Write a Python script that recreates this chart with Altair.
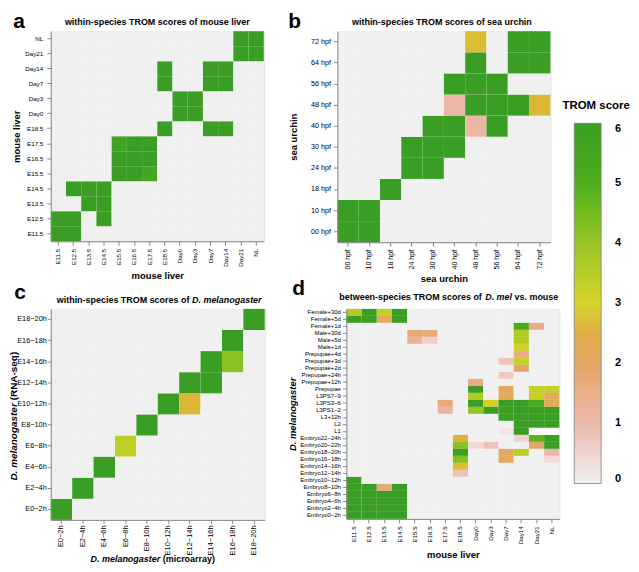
import altair as alt
import pandas as pd

FONT = "Liberation Sans"

# ---------------- categories ----------------
MOUSE = ["E11.5", "E12.5", "E13.5", "E14.5", "E15.5", "E16.5", "E17.5",
         "E18.5", "Day0", "Day3", "Day7", "Day14", "Day21", "NL"]
URCHIN = ["00 hpf", "10 hpf", "18 hpf", "24 hpf", "30 hpf",
          "40 hpf", "48 hpf", "56 hpf", "64 hpf", "72 hpf"]
DMEL_EMBRYO = ["E0\u22122h", "E2\u22124h", "E4\u22126h", "E6\u22128h", "E8\u221210h",
               "E10\u221212h", "E12\u221214h", "E14\u221216h", "E16\u221218h", "E18\u221220h"]
# panel d rows, listed from top to bottom
DMEL_STAGES = ["Female+30d", "Female+5d", "Female+1d", "Male+30d", "Male+5d", "Male+1d",
               "Prepupae+4d", "Prepupae+3d", "Prepupae+2d", "Prepupae+24h", "Prepupae+12h",
               "Prepupae", "L3PS7\u22129", "L3PS3\u22126", "L3PS1\u22122", "L3+12h", "L2", "L1",
               "Embryo22\u221224h", "Embryo20\u221222h", "Embryo18\u221220h", "Embryo16\u221218h",
               "Embryo14\u221216h", "Embryo12\u221214h", "Embryo10\u221212h", "Embryo8\u221210h",
               "Embryo6\u22128h", "Embryo4\u22126h", "Embryo2\u22124h", "Embryo0\u22122h"]

# ---------------- TROM scores ----------------
# panel a: one row per MOUSE stage (E11.5 ... NL), columns MOUSE
A_SCORES = [
    [6, 6, 0, 0, 0, 0, 0, 0, 0, 0, 0, 0, 0, 0],
    [6, 6, 0, 6, 0, 0, 0, 0, 0, 0, 0, 0, 0, 0],
    [0, 0, 6, 6, 0, 0, 0, 0, 0, 0, 0, 0, 0, 0],
    [0, 6, 6, 6, 0, 0, 0, 0, 0, 0, 0, 0, 0, 0],
    [0, 0, 0, 0, 6, 6, 5.5, 0, 0, 0, 0, 0, 0, 0],
    [0, 0, 0, 0, 6, 6, 6, 0, 0, 0, 0, 0, 0, 0],
    [0, 0, 0, 0, 5.7, 6, 6, 0, 0, 0, 0, 0, 0, 0],
    [0, 0, 0, 0, 0, 0, 0, 6, 0, 0, 6, 6, 0, 0],
    [0, 0, 0, 0, 0, 0, 0, 0, 6, 6, 0, 0, 0, 0],
    [0, 0, 0, 0, 0, 0, 0, 0, 6, 6, 0, 0, 0, 0],
    [0, 0, 0, 0, 0, 0, 0, 6, 0, 0, 6, 6, 0, 0],
    [0, 0, 0, 0, 0, 0, 0, 6, 0, 0, 6, 6, 0, 0],
    [0, 0, 0, 0, 0, 0, 0, 0, 0, 0, 0, 0, 6, 6],
    [0, 0, 0, 0, 0, 0, 0, 0, 0, 0, 0, 0, 6, 6],
]
# panel b: one row per URCHIN stage (00 hpf ... 72 hpf), columns URCHIN
B_SCORES = [
    [6, 6, 0, 0, 0, 0, 0, 0, 0, 0],
    [6, 6, 0, 0, 0, 0, 0, 0, 0, 0],
    [0, 0, 6, 0, 0, 0, 0, 0, 0, 0],
    [0, 0, 0, 6, 6, 0, 0, 0, 0, 0],
    [0, 0, 0, 6, 6, 6, 0, 0, 0, 0],
    [0, 0, 0, 0, 6, 6, 1.1, 6, 0, 0],
    [0, 0, 0, 0, 0, 1.1, 6, 6, 6, 2.75],
    [0, 0, 0, 0, 0, 6, 6, 6, 0, 0],
    [0, 0, 0, 0, 0, 0, 6, 0, 6, 6],
    [0, 0, 0, 0, 0, 0, 2.8, 0, 6, 6],
]
# panel c: one row per RNA-seq stage (E0-2h ... E18-20h), columns microarray stages
C_SCORES = [
    [6, 0, 0, 0, 0, 0, 0, 0, 0, 0],
    [0, 6, 0, 0, 0, 0, 0, 0, 0, 0],
    [0, 0, 6, 0, 0, 0, 0, 0, 0, 0],
    [0, 0, 0, 3.4, 0, 0, 0, 0, 0, 0],
    [0, 0, 0, 0, 6, 0, 0, 0, 0, 0],
    [0, 0, 0, 0, 0, 6, 2.75, 0, 0, 0],
    [0, 0, 0, 0, 0, 0, 6, 6, 0, 0],
    [0, 0, 0, 0, 0, 0, 0, 6, 4.2, 0],
    [0, 0, 0, 0, 0, 0, 0, 0, 6, 0],
    [0, 0, 0, 0, 0, 0, 0, 0, 0, 6],
]
# panel d: one row per DMEL_STAGES entry (top to bottom), columns MOUSE
D_SCORES = [
    [3.6, 6, 3.3, 6, 0, 0, 0, 0, 0, 0, 0, 0, 0, 0],
    [6, 6, 2.1, 6, 0, 0, 0, 0, 0, 0, 0, 0, 0, 0],
    [0, 0, 0, 0, 0, 0, 0, 0, 0, 0, 0, 5.3, 1.6, 0],
    [0, 0, 0, 0, 1.8, 1.8, 0, 0, 0, 0, 0, 3.6, 0, 0],
    [0, 0, 0, 0, 1.3, 0.6, 0, 0, 0, 0, 0, 3.6, 0, 0],
    [0, 0, 0, 0, 0, 0, 0, 0, 0, 0, 0, 3.1, 0, 0],
    [0, 0, 0, 0, 0, 0, 0, 0, 0, 0, 0, 1.6, 0, 0],
    [0, 0, 0, 0, 0, 0, 0, 0, 0, 0, 0.8, 3.2, 0, 0],
    [0, 0, 0, 0, 0, 0, 0, 0, 0, 0, 0, 2.0, 0, 0],
    [0, 0, 0, 0, 0, 0, 0, 0, 0, 0, 0.7, 0, 0, 0],
    [0, 0, 0, 0, 0, 0, 0, 0, 1.6, 0, 0, 0, 0, 0],
    [0, 0, 0, 0, 0, 0, 0, 0, 6, 0, 2.1, 0, 3.3, 3.3],
    [0, 0, 0, 0, 0, 0, 0, 0, 3.6, 0, 2.3, 0, 3.3, 2.3],
    [0, 0, 0, 0, 0, 0, 1.8, 0, 6, 3.1, 6, 6, 5.2, 2.3],
    [0, 0, 0, 0, 0, 0, 1.2, 0, 4.1, 6, 6, 6, 6, 6],
    [0, 0, 0, 0, 0, 0, 0, 0, 0, 0, 6, 6, 6, 6],
    [0, 0, 0, 0, 0, 0, 0, 0, 0, 0, 0, 6, 6, 6],
    [0, 0, 0, 0, 0, 0, 0, 0, 0, 0, 0.2, 6, 0, 0],
    [0, 0, 0, 0, 0, 0, 0, 2.7, 0, 0, 0, 0.5, 4.8, 6],
    [0, 0, 0, 0, 0, 0, 0, 4.2, 0.4, 0.8, 0, 0, 2.0, 6],
    [0, 0, 0, 0, 0, 0, 0, 6, 0, 0, 2.1, 3.5, 0, 1.0],
    [0, 0, 0, 0, 0, 0, 0, 4.3, 0, 0, 2.1, 0, 0, 0.4],
    [0, 0, 0, 0, 0, 0, 0, 2.8, 0, 0, 0, 0, 0, 0],
    [0, 0, 0, 0, 0, 0, 0, 0.8, 0, 0, 0, 0, 0, 0],
    [6, 0, 0, 0, 0, 0, 0, 0, 0, 0, 0, 0, 0, 0],
    [6, 6, 1.8, 6, 0, 0, 0, 0, 0, 0, 0, 0, 0, 0],
    [6, 6, 6, 6, 0, 0, 0, 0, 0, 0, 0, 0, 0, 0],
    [6, 6, 6, 6, 0, 0, 0, 0, 0, 0, 0, 0, 0, 0],
    [6, 6, 6, 6, 0, 0, 0, 0, 0, 0, 0, 0, 0, 0],
    [6, 6, 6, 6, 0, 0, 0, 0, 0, 0, 0, 0, 0, 0],
]
# cells of panel d with no score (drawn white)
D_MISSING_ROWS = ["L1", "L1"]
D_MISSING_COLS = ["Day21", "NL"]

SCORE_STOPS = [0, 1, 2, 2.7, 3, 4, 5, 6]
SCORE_COLORS = ["#F1F0F0", "#EBB9AB", "#E2A766", "#DCB23A", "#D8D22C",
                "#98C726", "#4FAF1E", "#3A9E24"]
LEGEND_VALUES = [0, 1, 2, 3, 4, 5, 6]


def to_long(row_labels, col_labels, matrix):
    recs = []
    for r, row in zip(row_labels, matrix):
        for c, v in zip(col_labels, row):
            recs.append({"y": r, "x": c, "v": v})
    return pd.DataFrame(recs)


SCALE = alt.Scale(domain=SCORE_STOPS, range=SCORE_COLORS, type="linear", clamp=True)
LEGEND = alt.Legend(
    type="gradient", orient="none", legendX=526, legendY=92.5, title=None,
    direction="vertical", gradientLength=362, gradientThickness=27, values=LEGEND_VALUES,
    labelFont=FONT, labelFontSize=11, labelFontWeight="bold", labelColor="black",
    labelOffset=14, gradientStrokeColor="#7F7F7F", gradientStrokeWidth=0.8, padding=0,
)
BAND = alt.Scale(paddingInner=0, paddingOuter=0)


def heat(df, xs, ys_top_down, xaxis, yaxis):
    return alt.Chart(df).mark_rect().encode(
        x=alt.X("x:N", sort=xs, scale=BAND, axis=xaxis),
        y=alt.Y("y:N", sort=ys_top_down, scale=BAND, axis=yaxis),
        color=alt.Color("v:Q", scale=SCALE, legend=LEGEND),
    )


def txt(text, x, y, size, style="normal", align="center", angle=0, baseline="alphabetic"):
    return alt.Chart(pd.DataFrame({"t": [text]})).mark_text(
        font=FONT, fontSize=size, fontWeight="bold", fontStyle=style, align=align,
        baseline=baseline, angle=angle, color="black",
    ).encode(text="t:N", x=alt.value(x), y=alt.value(y))


def letter(text, x, base):
    # panel letter; y given as its baseline, drawn with a top baseline
    return txt(text, x, base - 16.6, 21, baseline="top")


def xaxis(title, size, tick=4, pad=3, tpad=4.5, tsize=9.5):
    return alt.Axis(title=title, labelAngle=-90, labelFontSize=size, tickSize=tick,
                    labelPadding=pad, titlePadding=tpad, titleFontSize=tsize,
                    labelOverlap=False)


def yaxis(title, size, tick=4, pad=3, tpad=3, tsize=9.5, style="normal"):
    return alt.Axis(title=title, labelFontSize=size, tickSize=tick, labelPadding=pad,
                    titlePadding=tpad, titleFontSize=tsize, titleFontStyle=style,
                    labelOverlap=False)


# ---------------- panel a ----------------
dfa = to_long(MOUSE, MOUSE, A_SCORES)
pa = alt.layer(
    heat(dfa, MOUSE, MOUSE[::-1], xaxis("mouse liver", 6.3), yaxis("mouse liver", 6.3, pad=4)),
    txt("within-species TROM scores of mouse liver", 107, -6, 9),
    letter("a", -32, -4),
).properties(width=214, height=211)

# ---------------- panel b ----------------
dfb = to_long(URCHIN, URCHIN, B_SCORES)
pb = alt.layer(
    heat(dfb, URCHIN, URCHIN[::-1], xaxis("sea urchin", 7.2), yaxis("sea urchin", 7.2, tpad=12)),
    txt("within-species TROM scores of sea urchin", 105, -6, 9),
    letter("b", -43, -4),
    txt("TROM score", 260, 78.5, 11.5),
).properties(width=214, height=212)

# ---------------- panel c ----------------
dfc = to_long(DMEL_EMBRYO, DMEL_EMBRYO, C_SCORES)
pc = alt.layer(
    heat(dfc, DMEL_EMBRYO, DMEL_EMBRYO[::-1],
         xaxis(None, 7.5, tick=3.5, pad=1.5), yaxis(None, 7.4, tick=3.5, pad=1)),
    txt("within-species TROM scores of", 6, -6, 9, align="left"),
    txt("D. melanogaster", 141.9, -6, 9, style="italic", align="left"),
    txt("D. melanogaster", -37, 172.5, 10, style="italic", align="left", angle=270,
        baseline="middle"),
    txt("(RNA-seq)", -37, 91.9, 10, align="left", angle=270, baseline="middle"),
    txt("D. melanogaster", 40, 251, 9, style="italic", align="left", baseline="middle"),
    txt("(microarray)", 112.5, 251, 9, align="left", baseline="middle"),
    letter("c", -31, -10.7),
).properties(width=215, height=212)

# ---------------- panel d ----------------
dfd = to_long(DMEL_STAGES, MOUSE, D_SCORES)
dmiss = pd.DataFrame({"y": D_MISSING_ROWS, "x": D_MISSING_COLS})
pd_ = alt.layer(
    heat(dfd, MOUSE, DMEL_STAGES, xaxis("mouse liver", 6.2, tpad=6),
         yaxis("D. melanogaster", 6, pad=2, tpad=2.5, style="italic")),
    alt.Chart(dmiss).mark_rect(color="white").encode(
        x=alt.X("x:N", sort=MOUSE), y=alt.Y("y:N", sort=DMEL_STAGES)),
    txt("between-species TROM scores of", -7.1, -9, 9, align="left"),
    txt("D. mel", 139.5, -9, 9, style="italic", align="left"),
    txt("vs. mouse", 169, -9, 9, align="left"),
    letter("d", -48, -14),
).properties(width=214, height=211)

row1 = alt.hconcat(pa, pb, spacing=23)
row2 = alt.hconcat(pc, pd_, spacing=21)
chart = alt.vconcat(row1, row2, spacing=-7).properties(
    padding={"left": 0, "top": 0, "right": 0, "bottom": 0}
).configure_view(
    stroke="#BDBDBD", strokeWidth=1.5, fill="#F2F2F2"
).configure_axis(
    labelFont=FONT, titleFont=FONT, labelColor="#3A3A3A", tickColor="#808080",
    tickWidth=0.8, domain=False, grid=False, titleFontWeight="bold", titleColor="black",
).configure(background="white")

chart.save("out.html", embed_options={"renderer": "svg", "actions": False})
